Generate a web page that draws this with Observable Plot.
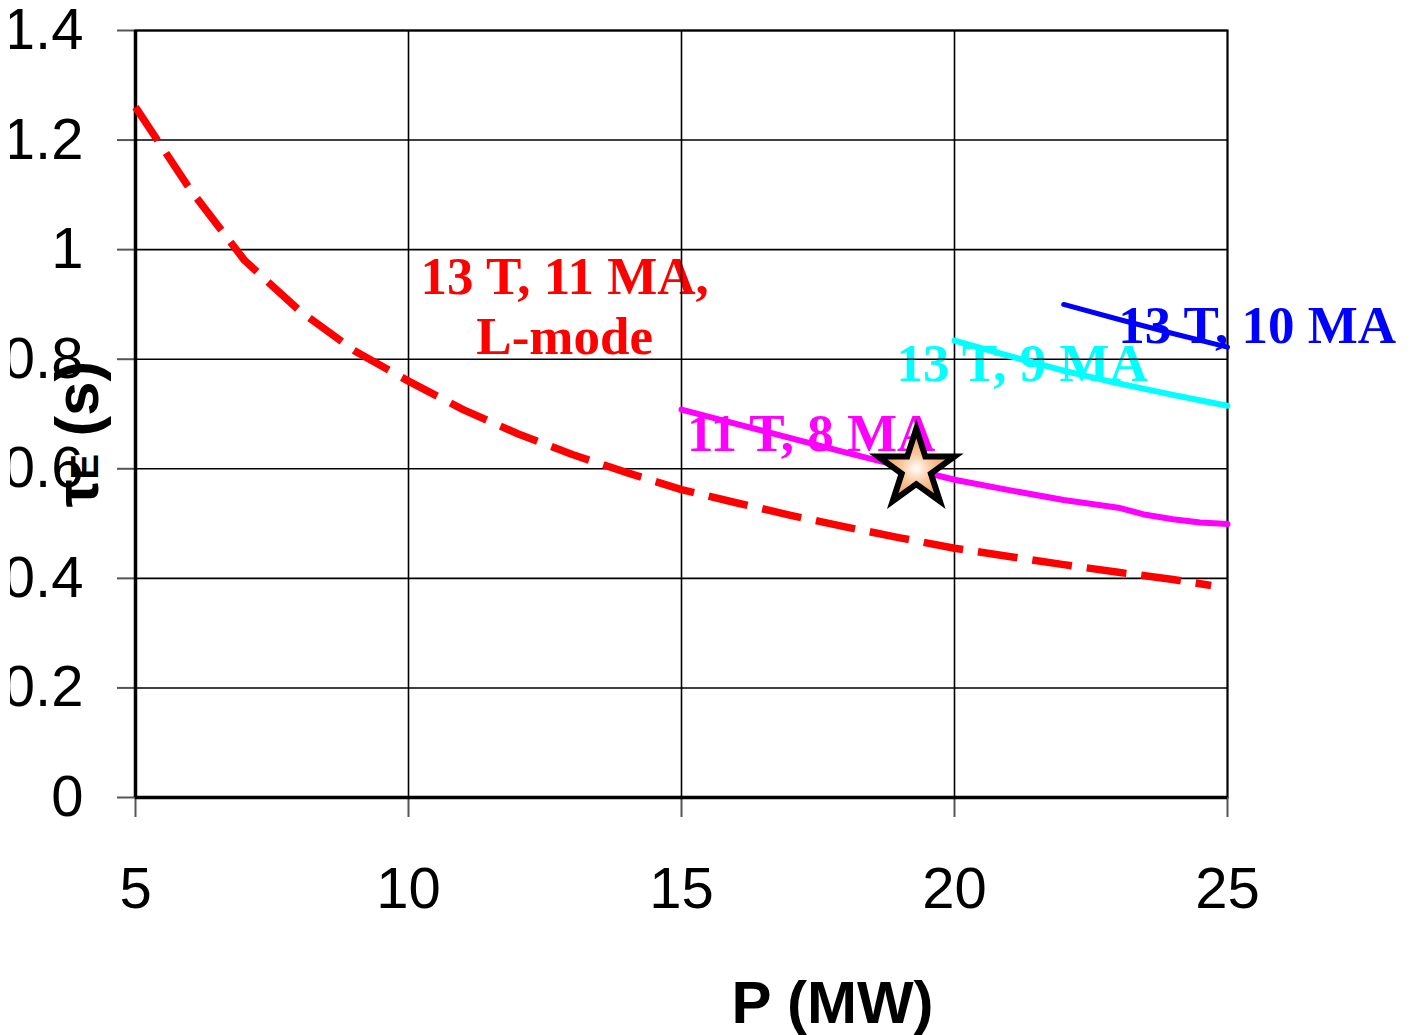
<!DOCTYPE html>
<html>
<head>
<meta charset="utf-8">
<script src="https://cdn.jsdelivr.net/npm/d3@7"></script>
<script src="https://cdn.jsdelivr.net/npm/@observablehq/plot@0.6"></script>
<style>
  html, body { margin: 0; padding: 0; background: white; }
  #wrap { position: absolute; left: 10px; top: 0; width: 1406px; height: 1035px; overflow: hidden; }
</style>
</head>
<body>
<div id="wrap"></div>
<script>
// ---- data ----
const xTicks = [5, 10, 15, 20, 25];
const yTicks = [0, 0.2, 0.4, 0.6, 0.8, 1, 1.2, 1.4];
const xGrid = [10, 15, 20];

const redP   = [5, 6, 7, 8, 9, 10, 11, 12, 13, 14, 15, 16, 17, 18, 19, 20, 21, 22, 23, 24, 24.7];
const redTau = [1.26, 1.11, 0.98, 0.889, 0.816, 0.76, 0.708, 0.664, 0.626, 0.593, 0.562, 0.538, 0.515, 0.494, 0.474, 0.455, 0.440, 0.425, 0.411, 0.398, 0.387];

const magentaP   = [15, 16, 17, 18, 19, 20, 21, 22, 23, 23.5, 24, 24.5, 25];
const magentaTau = [0.708, 0.682, 0.656, 0.630, 0.605, 0.580, 0.561, 0.543, 0.529, 0.516, 0.508, 0.502, 0.499];

const cyanP   = [20, 21, 22, 23, 24, 25];
const cyanTau = [0.834, 0.806, 0.779, 0.756, 0.735, 0.715];

const blueP   = [22, 23, 24, 25];
const blueTau = [0.900, 0.873, 0.847, 0.822];

const starP   = [19.3];
const starTau = [0.600];

const labelText   = ["13 T, 11 MA,\nL-mode", "11 T, 8 MA", "13 T, 9 MA", "13 T, 10 MA"];
const labelP      = [12.86, 15.10, 18.94, 23.00];
const labelTau    = [0.810, 0.633, 0.761, 0.830];
const labelColor  = ["#ff0000", "#ff00ff", "#00ffff", "#0000ff"];
const labelAnchor = ["middle", "start", "start", "start"];

const xLabel = "P (MW)";
const yLabel = "τE (s)";

// ---- tables built from arrays ----
const toRows = (P, T) => P.map((p, i) => ({p, t: T[i]}));
const red = toRows(redP, redTau);
const magenta = toRows(magentaP, magentaTau);
const cyan = toRows(cyanP, cyanTau);
const blue = toRows(blueP, blueTau);
const star = toRows(starP, starTau);
const labels = labelText.map((s, i) => ({s, p: labelP[i], t: labelTau[i], c: labelColor[i], a: labelAnchor[i]}));

const fmt = d => String(+d.toFixed(1));

const plot = Plot.plot({
  width: 1406,
  height: 1035,
  marginLeft: 125,
  marginTop: 30,
  marginRight: 189,
  marginBottom: 238,
  style: {fontFamily: "'Liberation Sans', Arial, sans-serif", fontSize: "58px", color: "black", background: "white", overflow: "hidden"},
  x: {domain: [5, 25]},
  y: {domain: [0, 1.4]},
  marks: [
    ...labels.map(l => Plot.text([l], {
      x: "p", y: "t", text: "s", fill: l.c, textAnchor: l.a, lineAnchor: "bottom",
      lineHeight: 1.12, fontFamily: "'Liberation Serif', 'Times New Roman', serif",
      fontWeight: "bold", fontSize: 53
    })),
    Plot.gridY({ticks: yTicks, stroke: "black", strokeOpacity: 1, strokeWidth: 1.6}),
    Plot.gridX({ticks: xGrid, stroke: "black", strokeOpacity: 1, strokeWidth: 1.6}),
    Plot.frame({stroke: "black", strokeWidth: 2.2}),
    Plot.axisY({ticks: yTicks, tickSize: 18, tickPadding: 34, tickFormat: fmt, stroke: "#555", strokeWidth: 2, label: null, fontSize: 58}),
    Plot.axisX({ticks: xTicks, tickSize: 20, tickPadding: 49, tickFormat: fmt, stroke: "#555", strokeWidth: 2, label: null, fontSize: 58}),
    Plot.ruleX([5], {stroke: "black", strokeWidth: 3.5}),
    Plot.ruleY([0], {stroke: "black", strokeWidth: 3.5}),
    Plot.line(red, {x: "p", y: "t", stroke: "#ff0000", strokeWidth: 7.5, strokeDasharray: "40,15", strokeLinecap: "butt"}),
    Plot.line(magenta, {x: "p", y: "t", stroke: "#ff00ff", strokeWidth: 6}),
    Plot.line(cyan, {x: "p", y: "t", stroke: "#00ffff", strokeWidth: 6}),
    Plot.line(blue, {x: "p", y: "t", stroke: "#0000ff", strokeWidth: 5}),
    Plot.dot(star, {x: "p", y: "t", symbol: "star", r: 24, fill: "url(#starGrad)", stroke: "black", strokeWidth: 6, strokeLinejoin: "miter"}),
    Plot.text([xLabel], {frameAnchor: "bottom", lineAnchor: "bottom", textAnchor: "middle", dx: 151, dy: 225, fontSize: 60, fontWeight: "bold"}),
    Plot.text([yLabel], {frameAnchor: "left", rotate: -90, lineAnchor: "bottom", textAnchor: "middle", dx: -38, dy: 20, fontSize: 62, fontWeight: "bold"})
  ]
});

document.getElementById("wrap").appendChild(plot);

// gradient for the star
const svg = d3.select(plot);
const defs = svg.insert("defs", ":first-child");
const grad = defs.append("radialGradient").attr("id", "starGrad").attr("cx", "50%").attr("cy", "55%").attr("r", "55%");
grad.append("stop").attr("offset", "0%").attr("stop-color", "#ffffff");
grad.append("stop").attr("offset", "35%").attr("stop-color", "#fbc9a0");
grad.append("stop").attr("offset", "100%").attr("stop-color", "#f08a3c");

// subscript E in the y label
svg.selectAll("text").filter(function() { return this.textContent === yLabel; }).each(function() {
  const t = d3.select(this);
  t.text(null);
  t.append("tspan").text("τ");
  t.append("tspan").attr("font-size", "62%").text("E");
  t.append("tspan").text(" (s)");
});
</script>
</body>
</html>
